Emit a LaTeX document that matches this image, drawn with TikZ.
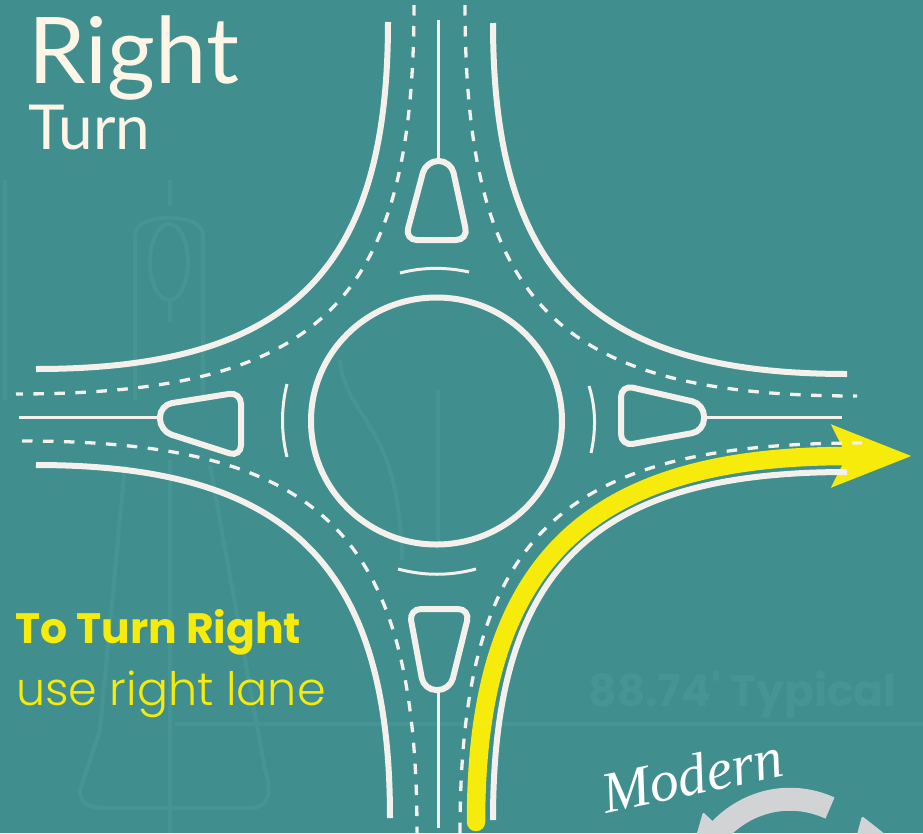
\documentclass[tikz,border=0pt]{standalone}
\usepackage{fontspec}
\usepackage{xcolor}
\usepackage{tikz}
\usetikzlibrary{arrows.meta}
\newfontfamily\titlefont{Lato}
\newfontfamily\notefont{Poppins}
\newfontfamily\notelightfont{Poppins Light}
\newfontfamily\logofont{Liberation Serif}
\definecolor{roadbg}{HTML}{418E8F}
\definecolor{ghost}{HTML}{479495}
\definecolor{chalk}{HTML}{F4F1EC}
\definecolor{cream}{HTML}{FDF5E6}
\definecolor{lemon}{HTML}{F6EB0A}
\definecolor{logogray}{HTML}{D1D3D4}

\begin{document}
\begin{tikzpicture}[
  x=1pt, y=-1pt,
  edge/.style={draw=chalk, line width=6pt},
  lanedash/.style={draw=chalk, line width=3.3pt, dash pattern=on 10.5pt off 10.5pt},
  median/.style={draw=chalk, line width=3pt},
  island/.style={draw=chalk, line width=6pt, rounded corners=12pt},
  yield/.style={draw=chalk, line width=3pt},
  turnarr/.style={draw=lemon, line width=18.5pt, line cap=round,
                  -{Stealth[length=79pt,width=60pt,inset=14pt]}},
  ghostline/.style={draw=ghost, line width=4pt},
]
  \clip (0,0) rectangle (923,833);
  \fill[roadbg] (0,0) rectangle (923,833);
  % faint drawing behind the roundabout
  \draw[ghostline] (5,180) -- (5,400);
  \draw[ghostline] (170,180) -- (170,205);
  \draw[ghostline] (135,400) -- (135,235) .. controls (135,212) and (203,212) .. (203,235) -- (203,400);
  \draw[ghostline] (169,262) ellipse [x radius=19, y radius=38];
  \draw[ghostline] (170,300) -- (170,322);
  \draw[ghostline] (125,465) -- (100,730) -- (80,790) .. controls (80,805) and (90,808) .. (110,808) -- (250,808) .. controls (270,808) and (272,790) .. (265,770) -- (210,465);
  \draw[ghostline] (170,460) -- (170,833);
  \draw[ghostline] (340,360) .. controls (345,420) and (400,420) .. (402,560);
  \draw[ghostline] (438,390) -- (438,550);
  \draw[ghostline] (175,724) -- (923,724);
  \node[anchor=base west, text=ghost, font=\notefont\bfseries\fontsize{44}{44}\selectfont] (typical) at (585,706) {88.74' Typical};

  % the yellow path goes under the white lines
  \draw[turnarr] (476,822) .. controls (476,561) and (589,456) .. (847,456) -- (912,456);

  \draw[edge] (388,22) .. controls (388,272) and (289,369) .. (36,369);
  \draw[edge] (493,23) .. controls (493,276) and (594,374) .. (847,374);
  \draw[edge] (36,465) .. controls (289,465) and (390,565) .. (390,818);
  \draw[edge] (493,820) .. controls (493,567) and (594,472) .. (847,472);

  \draw[lanedash] (414,5) .. controls (414,306) and (317,394) .. (16,394);
  \draw[lanedash] (465,5) .. controls (465,305) and (557,396) .. (857,396);
  \draw[lanedash] (22,441) .. controls (322,441) and (417,533) .. (417,833);
  \draw[lanedash] (460,833) .. controls (460,533) and (562,443) .. (862,443);

  \draw[median] (438,20) -- (438,159);
  \draw[median] (19,417) -- (160,417);
  \draw[median] (705,417) -- (842,417);
  \draw[median] (438,690) -- (438,828);

  \draw[island] (426,161) -- (451,161) -- (468,240) -- (405,240) -- cycle;
  \draw[island] (409,609) -- (470,609) -- (450,690) -- (424,690) -- cycle;
  \draw[island] (160,405) -- (241,392) -- (241,457) -- (160,431) -- cycle;
  \draw[island] (621,385) -- (704,404) -- (704,431) -- (621,446) -- cycle;

  \draw[edge] (436.5,421) ellipse [x radius=125.5, y radius=123.5];

  \draw[yield] (400,273) .. controls (423,267) and (446,267) .. (469,272);
  \draw[yield] (398,569) .. controls (424,576) and (450,576) .. (476,569);
  \draw[yield] (287,384) .. controls (281,408) and (281,433) .. (287,457);
  \draw[yield] (589,386) .. controls (596,408) and (596,431) .. (591,453);

  \node[anchor=base west, text=cream, font=\titlefont\fontsize{92}{92}\selectfont] (title) at (25,83) {Right};
  \node[anchor=base west, text=cream, font=\titlefont\fontsize{62}{62}\selectfont] (subtitle) at (25,149) {Turn};
  \node[anchor=base west, inner sep=0pt, text=lemon, font=\notefont\bfseries\fontsize{42.5}{42.5}\selectfont] (tip) at (15,643) {To Turn Right};
  \node[anchor=base west, inner sep=0pt, text=lemon, font=\notelightfont\fontsize{46}{46}\selectfont] (lane) at (16,705) {use right lane};

  % logo, cut off by the page
  \node[anchor=base west, inner sep=0pt, rotate=12, text=white, font=\logofont\itshape\fontsize{58}{58}\selectfont] (modern) at (606,814) {Modern};
  \draw[draw=logogray, line width=23pt] (830,808) .. controls (790,790) and (745,800) .. (715,835);
  \fill[logogray, rounded corners=2pt] (703,812) -- (722,830) -- (722,840) -- (695,840) -- cycle;
  \fill[logogray, rounded corners=2pt] (862,816) -- (890,838) -- (856,838) -- cycle;
\end{tikzpicture}
\end{document}
